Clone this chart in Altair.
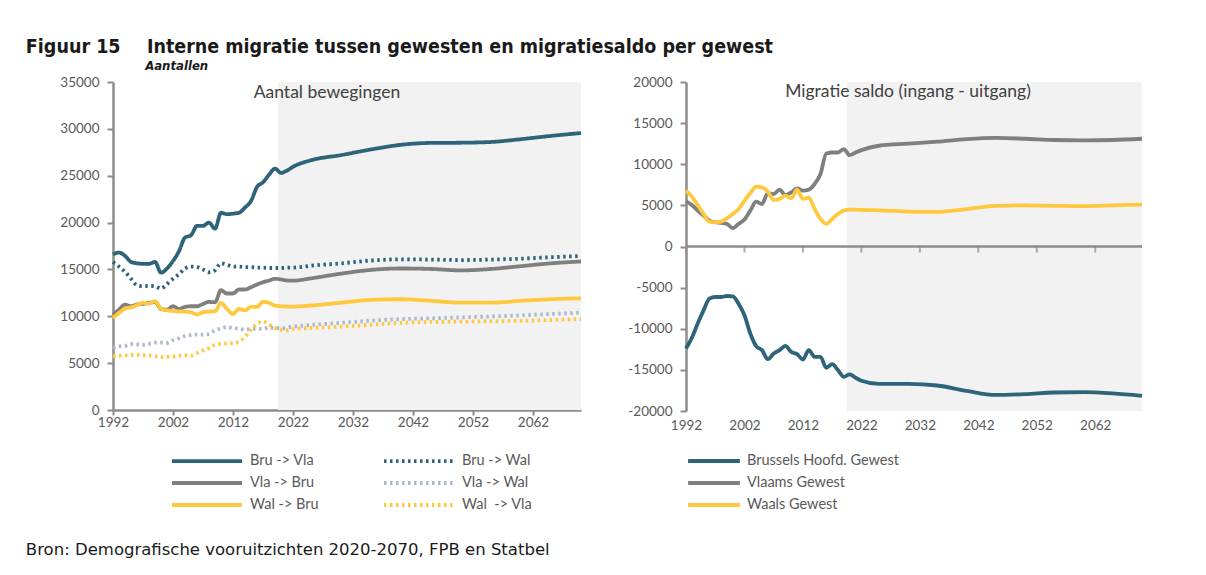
import altair as alt
import pandas as pd

# ---------------- data ----------------
years_hist = list(range(1992, 2023))
years_proj = [2025, 2030, 2035, 2040, 2045, 2050, 2055, 2060, 2065, 2070]
years = years_hist + years_proj

bru_vla = [16600, 16800, 16450, 15800, 15650, 15600, 15600, 15800, 14650, 15100,
           15900, 16950, 18400, 18650, 19650, 19650, 20000, 19350, 21050, 20900,
           20950, 21050, 21600, 22300, 23800, 24300, 25100, 25750, 25300, 25550,
           25950,
           26650, 27200, 27800, 28300, 28500, 28520, 28600, 28900, 29250, 29550]
bru_wal = [15790, 15300, 14750, 14000, 13300, 13200, 13250, 13200, 12950, 13450,
           14000, 14500, 15100, 15300, 15250, 15000, 14700, 14900, 15650, 15500,
           15300, 15300, 15250, 15250, 15200, 15200, 15150, 15150, 15150, 15200,
           15200,
           15400, 15650, 15950, 16080, 16050, 16000, 16050, 16150, 16300, 16430]
vla_bru = [10180, 10710, 11250, 11070, 11250, 11320, 11430, 11530, 10780, 10710,
           11070, 10780, 11000, 11070, 11070, 11320, 11530, 11500, 12780, 12430,
           12430, 12860, 12860, 13100, 13390, 13640, 13820, 14000, 13930, 13820,
           13800,
           14050, 14550, 14950, 15100, 15050, 14900, 15050, 15350, 15650, 15850]
vla_wal = [6610, 6790, 6830, 7040, 7000, 6960, 7060, 7180, 7200, 7150,
           7450, 7650, 7900, 8000, 8040, 8040, 8100, 8500, 8700, 8850,
           8750, 8650, 8580, 8650, 8670, 8640, 8800, 8750, 8700, 8800,
           8900,
           9070, 9300, 9530, 9700, 9780, 9880, 9980, 10100, 10250, 10380]
wal_bru = [9820, 10360, 10820, 10960, 11180, 11430, 11360, 11610, 10820, 10640,
           10570, 10530, 10500, 10430, 10180, 10430, 10500, 10530, 11430, 10780,
           10250, 10780, 10640, 11000, 11000, 11530, 11430, 11140, 11070, 11040,
           11040,
           11150, 11450, 11750, 11820, 11650, 11450, 11450, 11650, 11820, 11920]
wal_vla = [5710, 5780, 5820, 5850, 5890, 5850, 5820, 5750, 5640, 5680,
           5710, 5780, 5820, 5800, 6070, 6360, 6610, 6960, 7070, 7100,
           7140, 7320, 7790, 8570, 9210, 9460, 9110, 8750, 8570, 8500,
           8640,
           8750, 8900, 9100, 9300, 9400, 9430, 9480, 9520, 9600, 9710]

brussel = [-12400, -11110, -9370, -7760, -6340, -6140, -6140, -6020, -6060, -6950,
           -8360, -10580, -12120, -12600, -13700, -13010, -12600, -12080, -12810, -13090,
           -13740, -12600, -13410, -13410, -14750, -14300, -15030, -15840, -15550, -15960,
           -16320,
           -16700, -16700, -16900, -17550, -18050, -17950, -17750, -17700, -17850, -18150]
vlaams = [5490, 5050, 4360, 3760, 3150, 2950, 2870, 2750, 2220, 2750,
          3270, 4360, 5450, 5170, 6500, 6380, 6910, 6260, 6590, 7070,
          6790, 6910, 7600, 8810, 11310, 11430, 11430, 11840, 11110, 11430,
          11720,
          12250, 12500, 12750, 13050, 13200, 13100, 12950, 12900, 12950, 13100]
waals = [6790, 6060, 5050, 3960, 3030, 2950, 3030, 3430, 3960, 4570,
         5580, 6500, 7270, 7190, 6670, 5660, 5780, 6180, 5860, 6910,
         5780, 5940, 4570, 3350, 2750, 3350, 3960, 4360, 4480, 4480,
         4440,
         4400, 4250, 4200, 4550, 4950, 5000, 4950, 4900, 5000, 5100]

# legend order: first column, then second column
left_names = ["Bru -> Vla", "Vla -> Bru", "Wal -> Bru",
              "Bru -> Wal", "Vla -> Wal", "Wal\u00a0 -> Vla"]
left_series = [bru_vla, vla_bru, wal_bru, bru_wal, vla_wal, wal_vla]
right_names = ["Brussels Hoofd. Gewest", "Vlaams Gewest", "Waals Gewest"]
right_series = [brussel, vlaams, waals]

left_ticks = [0, 5000, 10000, 15000, 20000, 25000, 30000, 35000]
right_ticks = [-20000, -15000, -10000, -5000, 0, 5000, 10000, 15000, 20000]
year_ticks = [1992, 2002, 2012, 2022, 2032, 2042, 2052, 2062]
year_min, year_max = 1992, 2070
projection_start = 2019.5

left_title = "Aantal bewegingen"
right_title = "Migratie saldo (ingang - uitgang)"
fig_title = "Figuur 15\u2003\u2002Interne migratie tussen gewesten en migratiesaldo per gewest"
fig_subtitle = "\u200b" + "\u2003" * 9 + "\u2002\u2002\u2009" + "Aantallen"
source = "Bron: Demografische vooruitzichten 2020-2070, FPB en Statbel"

# ---------------- styles ----------------
TEAL = "#2E6479"
GREY = "#7F7F7F"
YELLOW = "#FFC83D"
LIGHT = "#ADB9CA"
AXIS = "#8C8C8C"
LABEL = "#595959"
SHADE = "#F2F2F2"
left_colors = [TEAL, GREY, YELLOW, TEAL, LIGHT, YELLOW]
left_dashes = [[1, 0], [1, 0], [1, 0], [2.5, 3.5], [2.5, 3.5], [2.5, 3.5]]
right_colors = [TEAL, GREY, YELLOW]

TICKFONT = "Lato"
TICKSIZE = 13.5
LEGSIZE = 14.5
HEADFONT = "DejaVu Sans Condensed, DejaVu Sans"

df_left = pd.DataFrame([
    {"jaar": y, "aantal": v, "reeks": n}
    for n, s in zip(left_names, left_series) for y, v in zip(years, s)
])
df_right = pd.DataFrame([
    {"jaar": y, "saldo": v, "gewest": n}
    for n, s in zip(right_names, right_series) for y, v in zip(years, s)
])

x_scale = alt.Scale(domain=[year_min, year_max], nice=False, zero=False)


def yaxis(vals):
    return alt.Axis(values=vals, grid=False, title=None, labelExpr="'' + datum.value",
                    domainColor=AXIS, domainWidth=2.5, tickColor=AXIS, tickWidth=2,
                    tickSize=6, labelFont=TICKFONT, labelFontSize=TICKSIZE, labelColor=LABEL,
                    labelPadding=8)


# ---------------- left chart ----------------
shade_left = pd.DataFrame({"a": [projection_start], "b": [year_max],
                           "lo": [min(left_ticks)], "hi": [max(left_ticks)]})
shade_l = alt.Chart(shade_left).mark_rect(color=SHADE).encode(
    x=alt.X("a:Q", scale=x_scale), x2="b:Q",
    y=alt.Y("lo:Q"), y2="hi:Q")

# long line symbol (70 px) on a small symbol box so rows stay compact
leg_left = alt.Legend(orient="none", legendX=85, legendY=370, columns=2, title=None,
                      symbolType="M-5,0H5", symbolSize=196, symbolStrokeWidth=3.8,
                      labelFont=TICKFONT, labelFontSize=LEGSIZE, labelColor=LABEL,
                      columnPadding=57, rowPadding=5, labelOffset=34)

lines_l = alt.Chart(df_left).mark_line(strokeWidth=3.8, interpolate="monotone").encode(
    x=alt.X("jaar:Q", scale=x_scale,
            axis=alt.Axis(values=year_ticks, format="d", grid=False, title=None,
                          domainColor=AXIS, domainWidth=2.5, tickColor=AXIS, tickWidth=2,
                          tickSize=5, labelFont=TICKFONT, labelFontSize=TICKSIZE,
                          labelColor=LABEL, labelPadding=0, labelFlush=False)),
    y=alt.Y("aantal:Q", scale=alt.Scale(domain=[min(left_ticks), max(left_ticks)], nice=False),
            axis=yaxis(left_ticks)),
    color=alt.Color("reeks:N", scale=alt.Scale(domain=left_names, range=left_colors),
                    legend=leg_left),
    strokeDash=alt.StrokeDash("reeks:N", scale=alt.Scale(domain=left_names, range=left_dashes),
                              legend=leg_left),
)

left = alt.layer(shade_l, lines_l).properties(
    width=468, height=328,
    title=alt.TitleParams(left_title, frame="group", offset=-26, dx=-20, font=TICKFONT,
                          fontSize=17.5, fontWeight="normal", color="#404040"))

# ---------------- right chart ----------------
shade_right = pd.DataFrame({"a": [projection_start], "b": [year_max],
                            "lo": [min(right_ticks)], "hi": [max(right_ticks)]})
shade_r = alt.Chart(shade_right).mark_rect(color=SHADE).encode(
    x=alt.X("a:Q", scale=x_scale), x2="b:Q",
    y=alt.Y("lo:Q"), y2="hi:Q")

zero_rule = alt.Chart(pd.DataFrame({"z": [0]})).mark_rule(color=AXIS, strokeWidth=2.5).encode(
    y="z:Q")
zero_ticks = alt.Chart(pd.DataFrame({"t": year_ticks, "z": [0] * len(year_ticks)})).mark_tick(
    orient="vertical", color=AXIS, thickness=2, size=6, yOffset=3).encode(
    x=alt.X("t:Q", scale=x_scale), y="z:Q")

leg_right = alt.Legend(orient="none", legendX=19, legendY=370, title=None,
                       symbolType="M-3.7,0H3.7", symbolSize=196, symbolStrokeWidth=3.8,
                       labelFont=TICKFONT, labelFontSize=LEGSIZE, labelColor=LABEL,
                       rowPadding=5, labelOffset=24)

lines_r = alt.Chart(df_right).mark_line(strokeWidth=3.8, interpolate="monotone").encode(
    x=alt.X("jaar:Q", scale=x_scale,
            axis=alt.Axis(values=year_ticks, format="d", grid=False, title=None,
                          domain=False, ticks=False, labelFont=TICKFONT, labelFontSize=TICKSIZE,
                          labelColor=LABEL, labelPadding=7, labelFlush=False)),
    y=alt.Y("saldo:Q", scale=alt.Scale(domain=[min(right_ticks), max(right_ticks)], nice=False),
            axis=yaxis(right_ticks)),
    color=alt.Color("gewest:N", scale=alt.Scale(domain=right_names, range=right_colors),
                    legend=leg_right),
)

right = alt.layer(shade_r, zero_rule, zero_ticks, lines_r).properties(
    width=456, height=329,
    title=alt.TitleParams(right_title, frame="group", offset=-25, dx=-6, font=TICKFONT,
                          fontSize=17.5, fontWeight="normal", color="#404040"))

body = alt.hconcat(left, right, spacing=38).resolve_scale(
    color="independent", strokeDash="independent").properties(
    title=alt.TitleParams(source, orient="bottom", anchor="start", frame="bounds",
                          dx=-34, offset=29, font="DejaVu Sans", fontSize=16.5,
                          fontWeight="normal", color="#1A1A1A"))

chart = alt.vconcat(body).properties(
    title=alt.TitleParams(fig_title, subtitle=fig_subtitle, anchor="start", frame="bounds",
                          dx=0, offset=1, font=HEADFONT, fontSize=19.5, fontWeight="bold",
                          color="#1A1A1A", subtitleFont=HEADFONT, subtitleFontSize=13,
                          subtitleFontStyle="italic", subtitleFontWeight="bold",
                          subtitleColor="#1A1A1A", subtitlePadding=3),
    padding={"left": 17, "top": 28, "right": 5, "bottom": 5},
).configure_view(stroke=None)

chart.save("out.html", embed_options={"renderer": "svg", "actions": False})
